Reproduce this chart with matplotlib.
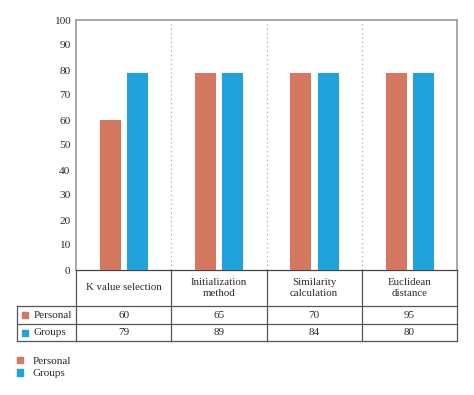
import matplotlib.pyplot as plt
from matplotlib.patches import Patch

# categories and values
categories = ['K value selection', 'Initialization\nmethod', 'Similarity\ncalculation', 'Euclidean\ndistance']
series_names = ['Personal', 'Groups']
# bar heights as drawn in the chart
personal_bars = [60, 79, 79, 79]
groups_bars = [79, 79, 79, 79]
# values listed in the data table under the chart
personal_table = [60, 65, 70, 95]
groups_table = [79, 89, 84, 80]
yticks = [0, 10, 20, 30, 40, 50, 60, 70, 80, 90, 100]

c_personal = '#D47862'
c_groups = '#1FA3DA'
txt = '#2b2b2b'

plt.rcParams['font.family'] = ['Liberation Serif', 'DejaVu Serif']

W, H = 474, 395
fig = plt.figure(figsize=(W / 100, H / 100), dpi=100)
ax = fig.add_axes([76 / W, (H - 270) / H, (457 - 76) / W, 250 / H])

x = list(range(len(categories)))
bw = 0.22
ax.bar([i - 0.14 for i in x], personal_bars, width=bw, color=c_personal, zorder=3)
ax.bar([i + 0.147 for i in x], groups_bars, width=bw, color=c_groups, zorder=3)

ax.set_xlim(-0.5, len(categories) - 0.5)
ax.set_ylim(0, 100)
ax.set_yticks(yticks)
ax.set_xticks([])
ax.tick_params(axis='y', length=0, labelsize=8.2, colors=txt, pad=4)

# dotted separators between categories
for i in range(1, len(categories)):
    ax.axvline(i - 0.5, color='#aaaaaa', lw=0.9, ls=(0, (1, 2.5)), zorder=1)

for side in ['left', 'top', 'right']:
    ax.spines[side].set_color('#999999')
    ax.spines[side].set_linewidth(1.2)
ax.spines['bottom'].set_color('#444444')
ax.spines['bottom'].set_linewidth(0.9)


# data table below the axes, drawn by hand (pixel rows -> axes coords)
def ay(py):
    return (270 - py) / 250


def axx(px):
    return (px - 76) / 381


lc = '#555555'
lw = 0.9
blend = ax.get_xaxis_transform()  # x in data, y in axes
for py in [306, 324, 341]:
    ax.plot([axx(17), axx(457)], [ay(py)] * 2, color=lc, lw=lw,
            transform=ax.transAxes, clip_on=False)
for i in range(len(categories) + 1):
    ax.plot([i - 0.5] * 2, [ay(270), ay(341)], color=lc, lw=lw,
            transform=blend, clip_on=False)
ax.plot([axx(17)] * 2, [ay(306), ay(341)], color=lc, lw=lw,
        transform=ax.transAxes, clip_on=False)

for i, cat in enumerate(categories):
    ax.text(i, ay(288), cat, transform=blend, ha='center', va='center',
            fontsize=7.8, color=txt, linespacing=1.25)
    ax.text(i, ay(315), str(personal_table[i]), transform=blend, ha='center',
            va='center', fontsize=8, color=txt)
    ax.text(i, ay(332.5), str(groups_table[i]), transform=blend, ha='center',
            va='center', fontsize=8, color=txt)

for name, col, py in zip(series_names, [c_personal, c_groups], [315, 332.5]):
    ax.plot([axx(25)], [ay(py)], marker='s', ms=5, color=col,
            transform=ax.transAxes, clip_on=False)
    ax.text(axx(34), ay(py), name, transform=ax.transAxes, fontsize=8,
            color=txt, va='center', ha='left')

handles = [Patch(color=c_personal, label='Personal'), Patch(color=c_groups, label='Groups')]
fig.legend(handles=handles, loc='upper left', bbox_to_anchor=(9 / W, (H - 349) / H),
           frameon=False, fontsize=8, handlelength=0.55, handleheight=0.55,
           handletextpad=0.9, labelspacing=0.25, labelcolor=txt, borderpad=0.2)

fig.savefig('out.png', dpi=100)
